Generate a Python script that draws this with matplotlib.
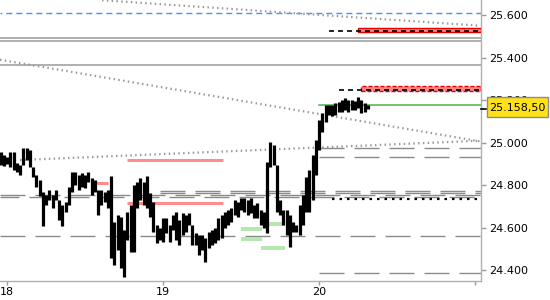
import matplotlib
matplotlib.use('Agg')
import matplotlib.pyplot as plt
import matplotlib.dates as mdates
import matplotlib.transforms as mtransforms
from matplotlib.patches import Rectangle
import pandas as pd
from matplotlib.ticker import FuncFormatter, FixedLocator

plt.rcParams['lines.scale_dashes'] = False
plt.rcParams['font.family'] = ['DejaVu Sans']

# ---------------- data ----------------
bar_start = '2024-03-17 23:00'
bar_freq = '30min'
highs = [24956, 24942, 24933, 24956, 24956, 24904, 24895, 24975, 24975, 24966,
         24886, 24848, 24824, 24768, 24754, 24778, 24754, 24778, 24730, 24707,
         24721, 24792, 24862, 24862, 24848, 24857, 24848, 24862, 24834, 24824,
         24778, 24778, 24768, 24778, 24843, 24627, 24660, 24651, 24590, 24674,
         24707, 24801, 24815, 24834, 24815, 24843, 24763, 24721, 24613, 24599,
         24646, 24646, 24613, 24660, 24674, 24636, 24669, 24660, 24669, 24613,
         24575, 24566, 24566, 24552, 24580, 24590, 24599, 24646, 24660, 24674,
         24683, 24693, 24730, 24721, 24740, 24740, 24730, 24740, 24707, 24716,
         24683, 24674, 24909, 25003, 24989, 24895, 24730, 24683, 24683, 24660,
         24627, 24613, 24707, 24754, 24838, 24871, 24942, 25012, 25106, 25139,
         25177, 25177, 25177, 25186, 25191, 25200, 25210, 25200, 25200, 25196,
         25214, 25200, 25186, 25177]
lows = [24895, 24890, 24900, 24886, 24871, 24862, 24848, 24895, 24918, 24886,
        24838, 24792, 24749, 24608, 24707, 24730, 24693, 24730, 24636, 24608,
        24674, 24707, 24768, 24801, 24778, 24792, 24787, 24815, 24754, 24768,
        24660, 24707, 24721, 24693, 24458, 24425, 24496, 24411, 24369, 24543,
        24486, 24486, 24693, 24730, 24707, 24693, 24651, 24580, 24528, 24543,
        24533, 24575, 24533, 24590, 24543, 24519, 24566, 24580, 24613, 24519,
        24519, 24472, 24496, 24439, 24505, 24519, 24528, 24543, 24552, 24599,
        24613, 24627, 24660, 24651, 24683, 24674, 24660, 24669, 24646, 24646,
        24613, 24599, 24575, 24886, 24895, 24674, 24660, 24613, 24566, 24510,
        24580, 24580, 24566, 24613, 24674, 24674, 24730, 24848, 24966, 25050,
        25097, 25130, 25125, 25130, 25144, 25144, 25154, 25144, 25154, 25154,
        25163, 25139, 25144, 25158]
last_price = 25158.5

solid_levels = [25490, 25476, 25364]
blue_level = 25612
green_level = 25176
green_level_start = '2024-03-20 00:00'
right_dash_levels = [24976, 24933, 24386]
right_dash_start = '2024-03-20 00:00'
full_dash_level = 24561
cluster_levels_full = [24754, 24743]
cluster_levels_late = [24774, 24765]
cluster_late_start = '2024-03-18 23:30'
dotted_black_level = 24734
dotted_black_start = '2024-03-20 02:00'

red_levels = [24918, 24718]
red_span = ('2024-03-18 18:30', '2024-03-19 09:15')
red_short_level = 24810
red_short_span = ('2024-03-18 13:45', '2024-03-18 15:30')

zone_tops = [25537, 25268]
zone_bottoms = [25519, 25244]
zone_starts = ['2024-03-20 06:00', '2024-03-20 06:30']
zone_mid_levels = [25523, 25248]
zone_mid_starts = ['2024-03-20 01:30', '2024-03-20 03:00']

green_zone_levels = [24618, 24594, 24547, 24502]
green_zone_spans = [('2024-03-19 15:00', '2024-03-19 18:45'),
                    ('2024-03-19 12:00', '2024-03-19 15:15'),
                    ('2024-03-19 12:00', '2024-03-19 15:15'),
                    ('2024-03-19 15:00', '2024-03-19 18:45')]

trend_times = [('2024-03-18 14:37', '2024-03-21 00:46'),
               ('2024-03-17 22:55', '2024-03-21 00:46'),
               ('2024-03-18 02:00', '2024-03-21 00:46')]
trend_values = [(25670, 25550), (25390, 25006), (24918, 25009)]

ytick_values = [24400, 24600, 24800, 25000, 25200, 25400, 25600]
xtick_days = ['2024-03-18', '2024-03-19', '2024-03-20', '2024-03-21']
xtick_labels = ['18', '19', '20', '']

x_min, x_max = '2024-03-17 22:55', '2024-03-21 00:52'
y_min, y_max = 24349, 25671

# ---------------- plotting ----------------
def d(s):
    return mdates.date2num(pd.Timestamp(s))

fig = plt.figure(figsize=(5.5, 3.0), dpi=100)
ax = fig.add_axes([0, 19 / 300, 480.7 / 550, 281 / 300])
ax.set_xlim(d(x_min), d(x_max))
ax.set_ylim(y_min, y_max)
X0, X1 = ax.get_xlim()

px = 0.72  # points per pixel
gray = '#8a8a8a'

# blue dashed
ax.plot([X0, X1], [blue_level] * 2, color='#4f8ef7', lw=1.0,
        linestyle=(3, (6 * px, 4 * px)))
for lv in solid_levels:
    ax.plot([X0, X1], [lv] * 2, color='#a9a9a9', lw=1.3)

# trendlines (dotted)
for (t0, t1), (v0, v1) in zip(trend_times, trend_values):
    ax.plot([d(t0), d(t1)], [v0, v1], color='#9a9a9a', lw=1.6,
            linestyle=(0, (1.5 * px, 3.3 * px)))

dash_pat = (0, (25 * px, 10 * px))
ax.plot([X0, X1], [full_dash_level] * 2, color=gray, lw=1.0, linestyle=dash_pat)
for lv in right_dash_levels:
    ax.plot([d(right_dash_start), X1], [lv] * 2, color=gray, lw=1.0, linestyle=dash_pat)
for k, lv in enumerate(cluster_levels_full):
    ax.plot([X0, X1], [lv] * 2, color=gray, lw=1.0,
            linestyle=(k * 6 * px, (25 * px, 10 * px)))
for lv in cluster_levels_late:
    ax.plot([d(cluster_late_start), X1], [lv] * 2, color=gray, lw=1.0, linestyle=dash_pat)

# green level
ax.plot([d(green_level_start), X1], [green_level] * 2, color='#5cb85c', lw=1.2)

# red lines
for lv in red_levels:
    ax.plot([d(red_span[0]), d(red_span[1])], [lv] * 2, color='#ff8c8c', lw=3 * px,
            solid_capstyle='butt')
ax.plot([d(red_short_span[0]), d(red_short_span[1])], [red_short_level] * 2,
        color='#ff8c8c', lw=3 * px, solid_capstyle='butt')

# green zones
for lv, (t0, t1) in zip(green_zone_levels, green_zone_spans):
    ax.plot([d(t0), d(t1)], [lv, lv], color='#b5e8b0', lw=4 * px, solid_capstyle='butt')

# red zones
for k, (top, bot, t0) in enumerate(zip(zone_tops, zone_bottoms, zone_starts)):
    ax.add_patch(Rectangle((d(t0), bot), X1 - d(t0), top - bot,
                           facecolor='#ff8585', edgecolor='#e00000', lw=1.0, zorder=3,
                           linestyle='-' if k == 0 else (0, (4 * px, 2 * px))))
for lv, t0 in zip(zone_mid_levels, zone_mid_starts):
    ax.plot([d(t0), X1], [lv, lv], color='black', lw=1.2,
            linestyle=(0, (5 * px, 4 * px)), zorder=4)

# black dotted level
ax.plot([d(dotted_black_start), X1], [dotted_black_level] * 2, color='black', lw=2.2 * px,
        linestyle=(0, (2.5 * px, 5 * px)), zorder=4)

# price bars
times = pd.date_range(bar_start, periods=len(highs), freq=bar_freq)
tn = mdates.date2num(times)
ax.vlines(tn, lows, highs, color='black', lw=3.2 * px, zorder=5)

# axes styling
for s in ['top', 'left']:
    ax.spines[s].set_visible(False)
for s in ['right', 'bottom']:
    ax.spines[s].set_color('#b0b0b0')
    ax.spines[s].set_linewidth(1.0)
ax.yaxis.tick_right()
ax.yaxis.set_major_locator(FixedLocator(ytick_values))
ax.yaxis.set_major_formatter(FuncFormatter(lambda v, p: f"{v:,.0f}".replace(',', '.')))
ax.xaxis.set_major_locator(FixedLocator([d(s) for s in xtick_days]))
ax.set_xticklabels(xtick_labels)
ax.tick_params(axis='y', direction='out', length=5 * px, width=1, color='#9a9a9a',
               labelsize=8, pad=2.5, labelcolor='black')
ax.tick_params(axis='x', direction='out', length=4 * px, width=1, color='#9a9a9a',
               labelsize=8, pad=1.5, labelcolor='black')

# last price marker and label
trans = mtransforms.blended_transform_factory(ax.transAxes, ax.transData)
ax.plot([1.0, 1.012], [last_price, last_price], color='black', lw=1.2,
        transform=trans, clip_on=False, zorder=6)
fig.patches.append(Rectangle((487 / 550, 1 - 117 / 300), 61 / 550, 20 / 300,
                             transform=fig.transFigure, facecolor='#ffe11a',
                             edgecolor='#8c8c8c', lw=1.0, zorder=10))
fig.text(517.5 / 550, 1 - 107.5 / 300,
         f"{last_price:,.2f}".replace(',', 'X').replace('.', ',').replace('X', '.'),
         ha='center', va='center', fontsize=8, color='black', zorder=11)

fig.savefig('out.png', dpi=100)
